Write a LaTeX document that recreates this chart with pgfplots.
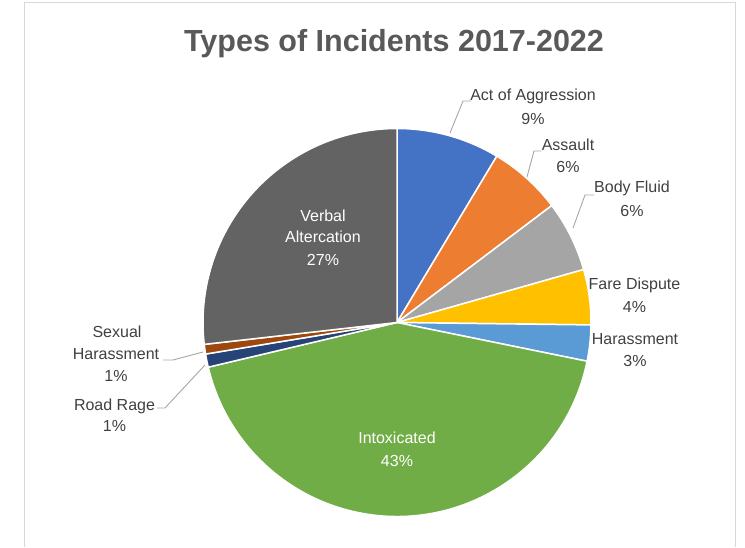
\documentclass[border=0pt]{standalone}
\usepackage{pgfplots}
\usepackage{pgfplotstable}
\pgfplotsset{compat=1.18}
\usepackage{fontspec}
\setmainfont{Liberation Sans}

\definecolor{cAgg}{HTML}{4472C4}
\definecolor{cAss}{HTML}{ED7D31}
\definecolor{cBody}{HTML}{A5A5A5}
\definecolor{cFare}{HTML}{FFC000}
\definecolor{cHar}{HTML}{5B9BD5}
\definecolor{cIntox}{HTML}{70AD47}
\definecolor{cRoad}{HTML}{264478}
\definecolor{cSex}{HTML}{9E480E}
\definecolor{cVerb}{HTML}{636363}
\definecolor{titlegray}{HTML}{595959}
\definecolor{labelgray}{HTML}{404040}
\definecolor{leader}{HTML}{A6A6A6}
\definecolor{frame}{HTML}{D9D9D9}

% share of each type, percent, clockwise from 12 o'clock
\pgfplotstableread{
type        value colour
Aggression  8.6   cAgg
Assault     6.1   cAss
BodyFluid   5.9   cBody
FareDispute 4.6   cFare
Harassment  3.0   cHar
Intoxicated 43.1  cIntox
RoadRage    1.1   cRoad
SexualHar   0.8   cSex
Verbal      26.8  cVerb
}\incidents

\begin{document}
\begin{tikzpicture}
\begin{axis}[
    scale only axis, width=745pt, height=547pt,
    xmin=0, xmax=745, ymin=0, ymax=547, y dir=reverse,
    hide axis, clip=false]
  \path (axis cs:0,0) rectangle (axis cs:745,547);
  % chart frame
  \draw[frame, line width=1pt] (axis cs:24.5,547) -- (axis cs:24.5,3) -- (axis cs:735,3) -- (axis cs:735,547);

  \def\cx{397}\def\cy{322.5}\def\rad{194}
  \gdef\angA{90}
  \pgfplotstablegetrowsof{\incidents}
  \pgfmathtruncatemacro\nrows{\pgfplotsretval-1}
  \pgfplotsforeachungrouped \i in {0,...,\nrows}{%
    \pgfplotstablegetelem{\i}{value}\of\incidents
    \let\val\pgfplotsretval
    \pgfplotstablegetelem{\i}{colour}\of\incidents
    \let\col\pgfplotsretval
    \pgfmathsetmacro\angB{\angA-3.6*\val}
    \pgfmathsetmacro\px{\cx+\rad*cos(\angA)}
    \pgfmathsetmacro\py{\cy-\rad*sin(\angA)}
    \edef\temp{\noexpand\fill[\col, draw=white, line width=1.5pt, line join=round]
      (axis cs:\cx,\cy) -- (axis cs:\px,\py)
      arc[start angle=\angA, end angle=\angB, radius=\rad pt] -- cycle;}
    \temp
    \global\let\angA\angB
  }

  % title
  \node[anchor=base, text=titlegray, font=\fontsize{30.5}{36}\selectfont\bfseries]
    at (axis cs:394,52) {Types of Incidents 2017-2022};

  % leader lines
  \begin{scope}[leader, line width=0.9pt]
    \draw (axis cs:450,133) -- (axis cs:463,101) -- (axis cs:471,101);
    \draw (axis cs:527,177) -- (axis cs:534,151) -- (axis cs:541,151);
    \draw (axis cs:573,228) -- (axis cs:585,195) -- (axis cs:594,195);
    \draw (axis cs:203,352) -- (axis cs:173,360) -- (axis cs:163,360);
    \draw (axis cs:205,365) -- (axis cs:165,408) -- (axis cs:157,408);
  \end{scope}

  % data labels
  \begin{scope}[every node/.style={anchor=base, font=\fontsize{16}{19}\selectfont, text=labelgray, inner sep=0pt}]
    \node at (axis cs:533,101) {Act of Aggression};
    \node at (axis cs:533,125) {9\%};
    \node at (axis cs:568,151) {Assault};
    \node at (axis cs:568,173) {6\%};
    \node at (axis cs:632,193) {Body Fluid};
    \node at (axis cs:632,216.5) {6\%};
    \node at (axis cs:634.5,290) {Fare Dispute};
    \node at (axis cs:634.5,313) {4\%};
    \node at (axis cs:635,345) {Harassment};
    \node at (axis cs:635,366.5) {3\%};
    \node at (axis cs:117,338) {Sexual};
    \node at (axis cs:116,360) {Harassment};
    \node at (axis cs:116,381.5) {1\%};
    \node at (axis cs:114.5,410.5) {Road Rage};
    \node at (axis cs:114.5,431.5) {1\%};
    \node[text=white] at (axis cs:323,221.5) {Verbal};
    \node[text=white] at (axis cs:323,243) {Altercation};
    \node[text=white] at (axis cs:323,266) {27\%};
    \node[text=white] at (axis cs:397,444) {Intoxicated};
    \node[text=white] at (axis cs:397,466.5) {43\%};
  \end{scope}
\end{axis}
\end{tikzpicture}
\end{document}
